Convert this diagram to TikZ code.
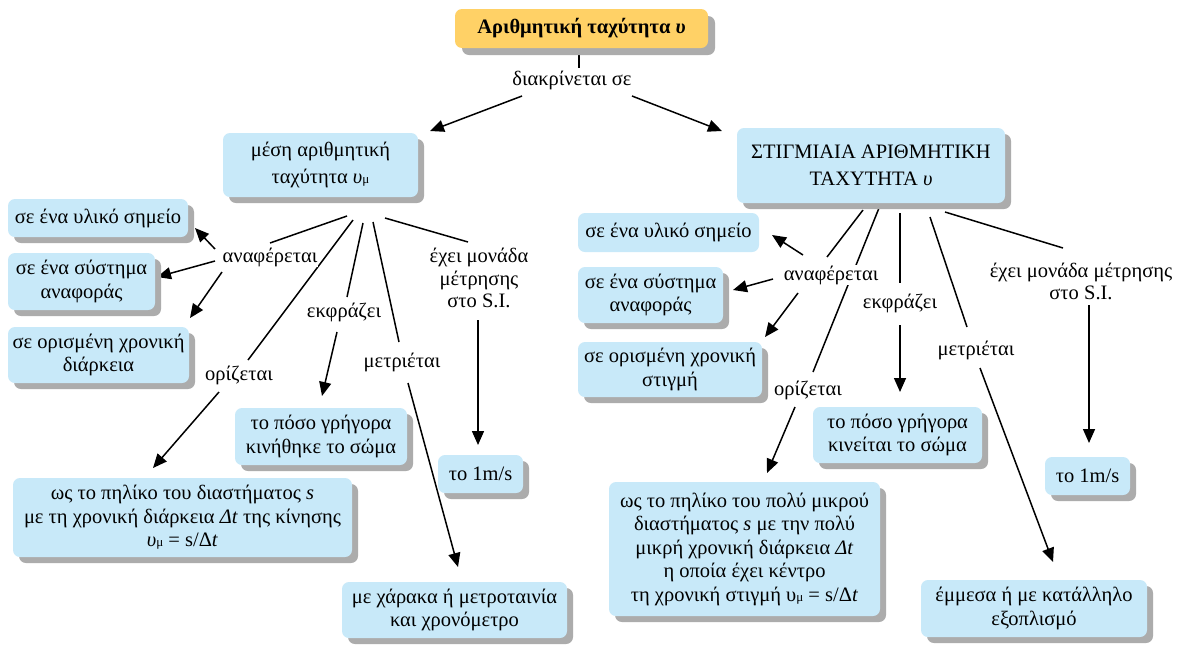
\documentclass[tikz,border=0pt]{standalone}
\usepackage{fontspec}
\setmainfont{Liberation Serif}
\usetikzlibrary{arrows.meta,shadows,calc,backgrounds}

\definecolor{boxblue}{RGB}{200,233,249}
\definecolor{boxgold}{RGB}{255,209,102}
\definecolor{shadowgray}{RGB}{172,172,172}

% small upright index letter, as in the mean speed symbol
\newcommand{\idx}[1]{{\fontsize{13}{13}\selectfont #1}}

\tikzset{
  box/.style={fill=boxblue, rounded corners=7pt, align=center, inner sep=0pt,
    drop shadow={shadow xshift=6pt, shadow yshift=-6pt, fill=shadowgray, opacity=1}},
  flatbox/.style={fill=boxblue, rounded corners=7pt, align=center, inner sep=0pt},
  titlebox/.style={fill=boxgold, rounded corners=7pt, align=center, inner sep=0pt,
    drop shadow={shadow xshift=7pt, shadow yshift=-7pt, fill=shadowgray, opacity=1}},
  lbl/.style={fill=white, align=center, inner sep=1pt},
  link/.style={line width=1.5pt},
  arr/.style={line width=1.5pt, -{Triangle[length=14pt,width=12pt]}},
}

\begin{document}
\begin{tikzpicture}[x=1pt, y=-1pt, font=\fontsize{20.5}{23.5}\selectfont]
\useasboundingbox (0,0) rectangle (1182,646);
\begin{pgfonlayer}{background}
  \fill[white] (0,0) rectangle (1182,646);
\end{pgfonlayer}

% ---------- top ----------
\node[titlebox, minimum width=253pt, minimum height=39pt] (top) at (581.5,28.5)
  {\textbf{Αριθμητική ταχύτητα \textit{υ}}};
\node[lbl] (dk) at (572,80) {διακρίνεται σε};

\node[box, minimum width=195pt, minimum height=64pt] (L) at (320.5,165)
  {μέση αριθμητική\\[3pt]ταχύτητα \textit{υ}\idx{μ}};
\node[box, minimum width=268pt, minimum height=75pt] (R) at (871,165.5)
  {ΣΤΙΓΜΙΑΙΑ ΑΡΙΘΜΗΤΙΚΗ\\[3pt]ΤΑΧΥΤΗΤΑ \textit{υ}};

% ---------- mean speed branch ----------
\node[lbl] (la1) at (270,257) {αναφέρεται};
\node[lbl] (lo1) at (239,375) {ορίζεται};
\node[lbl] (le1) at (344,312) {εκφράζει};
\node[lbl] (lm1) at (402,362) {μετριέται};
\node[lbl, font=\fontsize{20.5}{22.5}\selectfont] (lx1) at (479,278) {έχει μονάδα\\μέτρησης\\στο S.I.};

\node[box, minimum width=180pt, minimum height=38pt] (a1) at (98,218) {σε ένα υλικό σημείο};
\node[box, minimum width=147pt, minimum height=57pt] (a2) at (81.5,281.5) {σε ένα σύστημα\\αναφοράς};
\node[box, minimum width=181pt, minimum height=56pt] (a3) at (98.5,355) {σε ορισμένη χρονική\\διάρκεια};
\node[box, minimum width=339pt, minimum height=79pt] (o1) at (182.5,517.5)
  {ως το πηλίκο του διαστήματος \textit{s}\\με τη χρονική διάρκεια \textit{Δt} της κίνησης\\\textit{υ}\idx{μ} = s/Δ\textit{t}};
\node[box, minimum width=172pt, minimum height=57pt] (e1) at (321,436.5) {το πόσο γρήγορα\\κινήθηκε το σώμα};
\node[box, minimum width=85pt, minimum height=38pt] (x1) at (480.5,474) {το 1m/s};
\node[box, minimum width=225pt, minimum height=56pt] (m1) at (454.5,610) {με χάρακα ή μετροταινία\\και χρονόμετρο};

% ---------- instantaneous speed branch ----------
\node[lbl] (la2) at (831,275) {αναφέρεται};
\node[lbl] (lo2) at (808,390) {ορίζεται};
\node[lbl] (le2) at (900,303) {εκφράζει};
\node[lbl] (lm2) at (976,350) {μετριέται};
\node[lbl, font=\fontsize{20.5}{22}\selectfont] (lx2) at (1081,281) {έχει μονάδα μέτρησης\\στο S.I.};

\node[flatbox, minimum width=181pt, minimum height=39pt] (b1) at (668.5,232.5) {σε ένα υλικό σημείο};
\node[box, minimum width=145pt, minimum height=56pt] (b2) at (650.5,295) {σε ένα σύστημα\\αναφοράς};
\node[box, minimum width=184pt, minimum height=55pt] (b3) at (670,369.5) {σε ορισμένη χρονική\\στιγμή};
\node[box, minimum width=271pt, minimum height=134pt] (o2) at (744.5,549)
  {ως το πηλίκο του πολύ μικρού\\διαστήματος \textit{s} με την πολύ\\μικρή χρονική διάρκεια \textit{Δt}\\η οποία έχει κέντρο\\τη χρονική στιγμή υ\idx{μ} = s/Δ\textit{t}};
\node[box, minimum width=169pt, minimum height=56pt] (e2) at (897.5,435) {το πόσο γρήγορα\\κινείται το σώμα};
\node[box, minimum width=85pt, minimum height=38pt] (x2) at (1087.5,476) {το 1m/s};
\node[box, minimum width=226pt, minimum height=57pt] (m2) at (1034,608.5) {έμμεσα ή με κατάλληλο\\εξοπλισμό};

% ---------- connectors ----------
\begin{pgfonlayer}{background}
  \draw[link] ($(top.center)+(-2.5,26.5)$) -- ($(dk.center)+(7,-12)$);
  \draw[arr] ($(dk.center)+(-50,16)$) -- ($(L.center)+(109.5,-34)$);
  \draw[arr] ($(dk.center)+(60,16)$) -- ($(R.center)+(-149,-34.5)$);

  % mean speed
  \draw[link] ($(L.center)+(26.5,51)$) -- ($(la1.center)+(0,-14)$);
  \draw[link] ($(L.center)+(32.5,55)$) -- ($(lo1.center)+(9,-15)$);
  \draw[link] ($(L.center)+(42.5,58)$) -- ($(le1.center)+(3,-15)$);
  \draw[link] ($(L.center)+(52.5,57)$) -- ($(lm1.center)+(-3,-20)$);
  \draw[link] ($(L.center)+(64.5,53)$) -- ($(lx1.center)+(-11,-36)$);
  \draw[arr] ($(la1.center)+(-55,-8)$) -- ($(a1.center)+(97,10)$);
  \draw[arr] ($(la1.center)+(-55,4)$) -- ($(a2.center)+(75.5,-4.5)$);
  \draw[arr] ($(la1.center)+(-48,15)$) -- ($(a3.center)+(91.5,-37)$);
  \draw[arr] ($(lo1.center)+(-20,17)$) -- ($(o1.center)+(-29.5,-49.5)$);
  \draw[arr] ($(le1.center)+(-7,20)$) -- ($(e1.center)+(1,-40.5)$);
  \draw[arr] ($(lm1.center)+(6,21)$) -- ($(m1.center)+(3.5,-43)$);
  \draw[arr] ($(lx1.center)+(-1,42)$) -- ($(x1.center)+(-2.5,-29)$);

  % instantaneous speed
  \draw[link] ($(R.center)+(-8,44.5)$) -- ($(la2.center)+(-4,-18)$);
  \draw[link] ($(R.center)+(8,42.5)$) -- ($(lo2.center)+(5,-18)$);
  \draw[link] ($(R.center)+(29,47.5)$) -- ($(le2.center)+(0,-20)$);
  \draw[link] ($(R.center)+(59,51.5)$) -- ($(lm2.center)+(-9,-23)$);
  \draw[link] ($(R.center)+(74,46.5)$) -- ($(lx2.center)+(-18,-33)$);
  \draw[arr] ($(la2.center)+(-28,-20)$) -- ($(b1.center)+(103.5,2.5)$);
  \draw[arr] ($(la2.center)+(-58,4)$) -- ($(b2.center)+(82.5,-5)$);
  \draw[arr] ($(la2.center)+(-33,18)$) -- ($(b3.center)+(95,-32.5)$);
  \draw[arr] ($(lo2.center)+(-13,17)$) -- ($(o2.center)+(22.5,-76)$);
  \draw[arr] ($(le2.center)+(0,22)$) -- ($(e2.center)+(2.5,-43)$);
  \draw[arr] ($(lm2.center)+(4,18)$) -- ($(m2.center)+(19,-46.5)$);
  \draw[arr] ($(lx2.center)+(8,24)$) -- ($(x2.center)+(1.5,-33)$);
\end{pgfonlayer}
\end{tikzpicture}
\end{document}
